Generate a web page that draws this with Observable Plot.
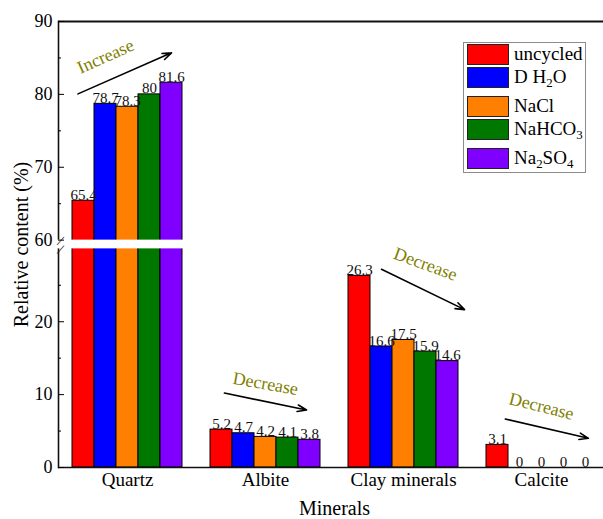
<!DOCTYPE html>
<html>
<head>
<meta charset="utf-8">
<script src="https://cdn.jsdelivr.net/npm/d3@7"></script>
<script src="https://cdn.jsdelivr.net/npm/@observablehq/plot@0.6"></script>
<style>
  html, body { margin: 0; padding: 0; background: #fff; }
  #wrap { position: relative; width: 603px; height: 519px; overflow: hidden;
          font-family: "Liberation Serif", "Times New Roman", serif; }
  #wrap svg { position: absolute; left: 0; top: 0; }
  #legend { position: absolute; left: 463px; top: 42px; width: 121px; height: 129px;
            border: 1px solid #8c8c8c; background: #fff; box-sizing: content-box; }
  .row { position: absolute; left: 3px; display: flex; align-items: flex-start; }
  .sw { width: 40px; height: 19px; border: 1px solid #222; }
  .lab { margin-left: 5px; font-size: 19px; line-height: 20px; color: #000; white-space: nowrap; }
  .lab sub { font-size: 0.68em; vertical-align: -0.3em; line-height: 0; }
</style>
</head>
<body>
<div id="wrap"></div>
<script>
// ---- data ----
const minerals = ["Quartz", "Albite", "Clay minerals", "Calcite"];
const series = ["uncycled", "D H2O", "NaCl", "NaHCO3", "Na2SO4"];
const seriesColors = ["#ff0000", "#0000ff", "#ff8000", "#007800", "#8000ff"];
const uncycled = [65.4, 5.2, 26.3, 3.1];
const dH2O     = [78.7, 4.7, 16.6, 0];
const naCl     = [78.3, 4.2, 17.5, 0];
const naHCO3   = [80, 4.1, 15.9, 0];
const na2SO4   = [81.6, 3.8, 14.6, 0];
const yTicks = [0, 10, 20, 60, 70, 80, 90];
const yMinorTicks = [5, 15, 25, 65, 75, 85];
const breakLow = 30, breakHigh = 60;

// annotations
const annMineral = ["Quartz", "Albite", "Clay minerals", "Calcite"];
const annText = ["Increase", "Decrease", "Decrease", "Decrease"];
const annFrom = ["uncycled", "uncycled", "D H2O", "uncycled"];
const annTo = ["Na2SO4", "Na2SO4", "Na2SO4", "Na2SO4"];
const annY1 = [80.4, 10.3, 27.2, 6.9];
const annY2 = [85.7, 7.8, 22.8, 4.1];
const annTextAt = ["D H2O", "NaCl", "NaHCO3", "NaCl"];
const annTextY = [85.2, 11.5, 27.9, 8.4];
const annRotate = [-24, 10, 20, 14];
const annInsetStart = [-6, 3, 0, 8];
const annInsetEnd = [0, 3, -19, -3];

// ---- table ----
const valuesBySeries = [uncycled, dH2O, naCl, naHCO3, na2SO4];
const data = [];
minerals.forEach((m, i) => series.forEach((s, j) => data.push({mineral: m, series: s, value: valuesBySeries[j][i]})));
const ann = annMineral.map((m, i) => ({
  mineral: m, text: annText[i], from: annFrom[i], to: annTo[i], y1: annY1[i], y2: annY2[i],
  at: annTextAt[i], ty: annTextY[i], rotate: annRotate[i]
}));

// broken axis: 0–30 and 60–90, with a small gap between
const gap = 1.2;
const brk = v => v <= breakLow ? v
  : v >= breakHigh ? v - breakHigh + breakLow + gap
  : breakLow + (v - breakLow) * gap / (breakHigh - breakLow);

const font = "'Liberation Serif', 'Times New Roman', serif";

const arrows = ann.map((a, i) => Plot.arrow([a], {
  fx: "mineral", x1: "from", x2: "to", y1: "y1", y2: "y2",
  stroke: "black", strokeWidth: 1.6, headLength: 9, headAngle: 40,
  insetStart: annInsetStart[i], insetEnd: annInsetEnd[i]
}));

const chart = Plot.plot({
  width: 603, height: 519,
  marginTop: 21, marginBottom: 52, marginLeft: 58, marginRight: -7,
  style: {fontFamily: font, fontSize: "18px", background: "transparent", color: "black", overflow: "visible"},
  fx: {domain: minerals, padding: 0, label: "Minerals"},
  x: {domain: series, paddingInner: 0, paddingOuter: 0.636, axis: null},
  y: {domain: [0, brk(90)], transform: brk},
  color: {domain: series, range: seriesColors},
  marks: [
    Plot.barY(data, {fx: "mineral", x: "series", y: "value", fill: "series", stroke: "black", strokeWidth: 1}),
    Plot.frame({anchor: "left", facetAnchor: "left", stroke: "#111", strokeWidth: 1.6}),
    Plot.rect([0], {y1: breakLow, y2: breakHigh, fill: "white", insetLeft: -4}),
    Plot.ruleY([0], {stroke: "#111", strokeWidth: 1.6}),
    Plot.ruleY([90], {stroke: "#111", strokeWidth: 2}),
    Plot.text([breakLow, breakHigh], {y: d => d, fx: () => "Quartz", frameAnchor: "left", text: () => "/",
      fontSize: 15, rotate: 22, fill: "#111"}),
    Plot.text(data, {fx: "mineral", x: "series", y: "value", text: d => String(d.value),
      lineAnchor: "bottom", dy: -1, fontSize: 15, fill: "#111"}),
    ...arrows,
    Plot.text(ann, {fx: "mineral", x: "at", y: "ty", text: "text", rotate: "rotate",
      fontSize: 18, fill: "#808000"}),
    // an explicit y channel makes the axis go through the y scale's break transform
    Plot.axisY(yTicks, {y: d => d, tickSize: -6, tickPadding: 12, fontSize: 18,
      label: "Relative content (%)", labelAnchor: "center", labelOffset: 45, labelArrow: "none"}),
    Plot.axisY(yMinorTicks, {y: d => d, tickSize: -3, tickFormat: () => "", label: null}),
    Plot.axisFx({anchor: "bottom", tickSize: 0, tickPadding: 5, fontSize: 19,
      label: "Minerals", labelAnchor: "center", labelOffset: 47, labelArrow: "none"})
  ]
});

const wrap = document.getElementById("wrap");
wrap.appendChild(chart);
// make the axis titles a little larger than the tick labels
d3.select(chart).selectAll("g[aria-label='y-axis label'] text").attr("font-size", 20);
d3.select(chart).selectAll("g[aria-label='fx-axis label'] text").attr("font-size", 20);

// legend (HTML, built from the series arrays)
const legend = document.createElement("div");
legend.id = "legend";
let rowTop = 1;
series.forEach((s, i) => {
  const row = document.createElement("div");
  row.className = "row";
  row.style.top = rowTop + "px";
  const sw = document.createElement("div");
  sw.className = "sw";
  sw.style.background = seriesColors[i];
  const lab = document.createElement("div");
  lab.className = "lab";
  lab.innerHTML = s.replace(/(\d)/g, "<sub>$1</sub>");
  row.appendChild(sw); row.appendChild(lab);
  legend.appendChild(row);
  rowTop += /\d/.test(s) ? 29 : 23;
});
wrap.appendChild(legend);
</script>
</body>
</html>
